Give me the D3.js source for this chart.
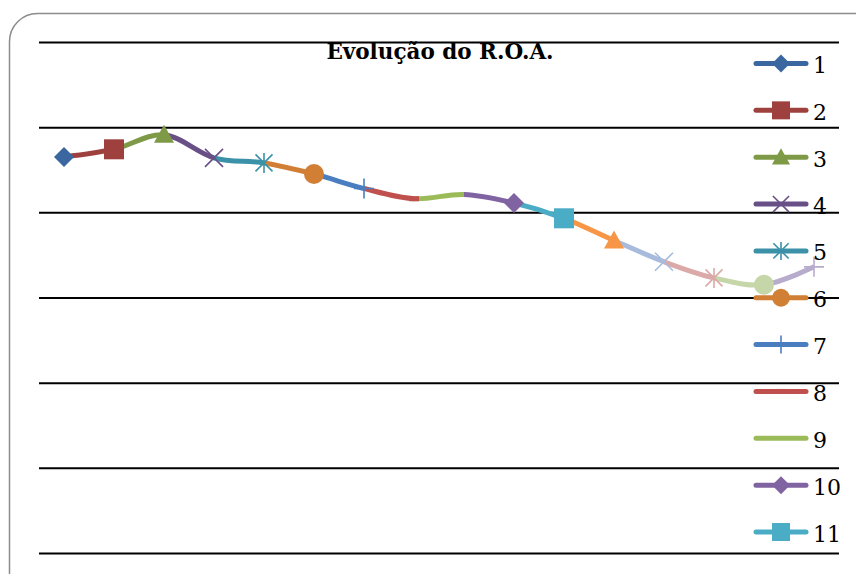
<!DOCTYPE html>
<html>
<head>
<meta charset="utf-8">
<script src="https://cdn.jsdelivr.net/npm/d3@7"></script>
<style>
  html, body { margin: 0; padding: 0; background: #fff; }
  svg { display: block; }
</style>
</head>
<body>
<svg id="chart" width="856" height="574"></svg>
<script>
// ---- data ----
const title = "Evolução do R.O.A.";
const categories = ["1","2","3","4","5","6","7","8","9","10","11","12","13","14","15","16"];
const values = [4.65, 4.74, 4.91, 4.64, 4.58, 4.45, 4.28, 4.16, 4.21, 4.11, 3.93, 3.67, 3.42, 3.23, 3.15, 3.36];
const colors = ["#3A67A0","#9E413E","#7E9A47","#684F86","#3B91A8","#D07F35",
                "#4A7EC0","#C0504D","#9BBB59","#8064A2","#4BACC6","#F79646",
                "#A8BBDC","#DBA9A8","#C5D6A9","#B8ACCC"];
const markers = ["diamond","square","triangle","x","star","circle","plus","dash","none",
                 "diamond","square","triangle","x","star","circle","plus"];
const yTicks = [0, 1, 2, 3, 4, 5, 6];

// ---- layout ----
const W = 856, H = 574;
const plot = { left: 39, right: 839, top: 42, bottom: 553 };
const svg = d3.select("#chart");

const x = d3.scaleBand().domain(categories).range([plot.left, plot.right]);
const xc = c => x(c) + x.bandwidth() / 2;
const y = d3.scaleLinear().domain([0, 6]).range([plot.bottom, plot.top]);

// frame
svg.append("rect")
  .attr("x", 9.5).attr("y", 13.5).attr("width", 900).attr("height", 620)
  .attr("rx", 28).attr("ry", 28)
  .attr("fill", "#fff").attr("stroke", "#8c8c8c").attr("stroke-width", 1.5);

// gridlines via axis
const yAxis = d3.axisLeft(y).tickValues(yTicks).tickSize(-(plot.right - plot.left)).tickFormat("");
const gy = svg.append("g").attr("transform", `translate(${plot.left},0)`).call(yAxis);
gy.select(".domain").remove();
gy.selectAll(".tick line").attr("stroke", "#000").attr("stroke-width", 2);

// title
svg.append("text")
  .attr("x", 440).attr("y", 59)
  .attr("text-anchor", "middle")
  .attr("font-family", "'DejaVu Serif', serif")
  .attr("font-weight", "bold")
  .attr("font-size", 21.5)
  .attr("fill", "#000")
  .text(title);

// smooth line, one colored segment per point
const pts = categories.map((c, i) => [xc(c), y(values[i])]);
const line = d3.line().curve(d3.curveCardinal.tension(0));
const defs = svg.append("defs");
for (let i = 1; i < categories.length; i++) {
  const id = "seg" + i;
  defs.append("clipPath").attr("id", id).append("rect")
    .attr("x", xc(categories[i - 1])).attr("y", 0)
    .attr("width", xc(categories[i]) - xc(categories[i - 1])).attr("height", H);
  svg.append("path")
    .attr("d", line(pts))
    .attr("clip-path", `url(#${id})`)
    .attr("fill", "none")
    .attr("stroke", colors[i])
    .attr("stroke-width", 5);
}

// marker drawing
function drawMarker(g, type, cx, cy, color, s) {
  const h = s / 2;
  if (type === "diamond") {
    g.append("path").attr("d", `M${cx},${cy - h}L${cx + h},${cy}L${cx},${cy + h}L${cx - h},${cy}Z`).attr("fill", color);
  } else if (type === "square") {
    g.append("rect").attr("x", cx - h).attr("y", cy - h).attr("width", s).attr("height", s).attr("fill", color);
  } else if (type === "triangle") {
    g.append("path").attr("d", `M${cx},${cy - h}L${cx + h},${cy + h * 0.8}L${cx - h},${cy + h * 0.8}Z`).attr("fill", color);
  } else if (type === "circle") {
    g.append("circle").attr("cx", cx).attr("cy", cy).attr("r", h).attr("fill", color);
  } else if (type === "x") {
    const k = h * 0.9;
    g.append("path").attr("d", `M${cx - k},${cy - k}L${cx + k},${cy + k}M${cx - k},${cy + k}L${cx + k},${cy - k}`)
      .attr("stroke", color).attr("stroke-width", 1.6).attr("fill", "none");
  } else if (type === "star") {
    const k = h * 0.85;
    g.append("path").attr("d", `M${cx - k},${cy - k}L${cx + k},${cy + k}M${cx - k},${cy + k}L${cx + k},${cy - k}M${cx},${cy - h}L${cx},${cy + h}`)
      .attr("stroke", color).attr("stroke-width", 1.6).attr("fill", "none");
  } else if (type === "plus") {
    g.append("path").attr("d", `M${cx},${cy - h}L${cx},${cy + h}M${cx - h},${cy}L${cx + h},${cy}`)
      .attr("stroke", color).attr("stroke-width", 1.6).attr("fill", "none");
  } else if (type === "dash") {
    g.append("rect").attr("x", cx - 5).attr("y", cy - 2.5).attr("width", 10).attr("height", 5).attr("fill", color);
  }
}

const mg = svg.append("g");
categories.forEach((c, i) => {
  drawMarker(mg, markers[i], xc(c), y(values[i]), colors[i], 20);
});

// legend
const legend = svg.append("g");
const legTop = 63.5, legStep = 46.85;
categories.forEach((c, i) => {
  const ly = legTop + i * legStep;
  if (ly > H) return;
  const g = legend.append("g");
  g.append("line").attr("x1", 756).attr("x2", 806).attr("y1", ly).attr("y2", ly)
    .attr("stroke", colors[i]).attr("stroke-width", 5).attr("stroke-linecap", "round");
  drawMarker(g, markers[i], 781, ly, colors[i], 18);
  g.append("text").attr("x", 813).attr("y", ly + 9.5)
    .attr("font-family", "'DejaVu Serif', serif").attr("font-size", 22).attr("fill", "#000")
    .text(c);
});
</script>
</body>
</html>
